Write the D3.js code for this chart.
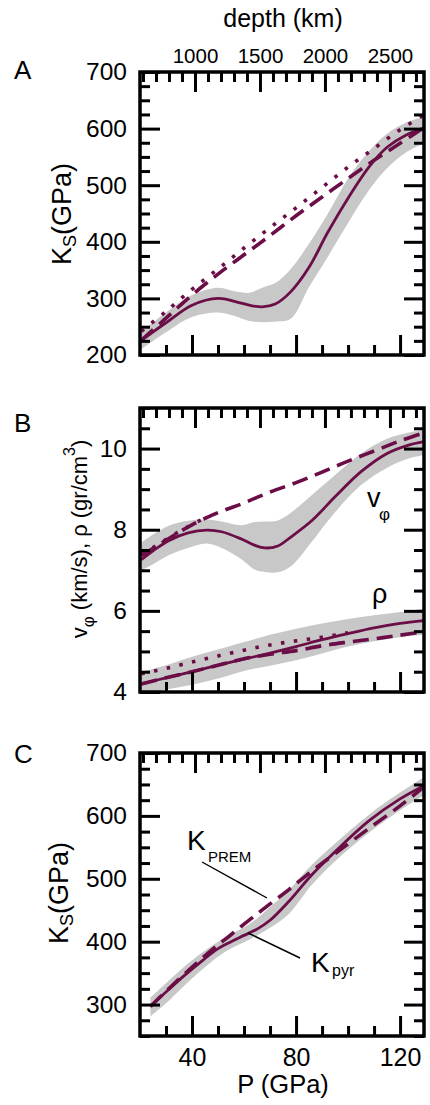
<!DOCTYPE html>
<html><head><meta charset="utf-8">
<script src="https://cdn.jsdelivr.net/npm/d3@7"></script>
<style>
body{margin:0;background:#fff;}
svg{display:block;font-family:"Liberation Sans",Arial,Helvetica,sans-serif;}
</style></head><body>
<svg id="c" width="430" height="1105"></svg>
<script>
// ---------- DATA ----------
// Panel A : K_S vs P
const pA = [20.5, 30, 40, 50, 57, 62, 67, 72, 78, 85, 92, 100, 108, 115, 122, 129.2];
const ksPyrA = [226, 257, 288, 300, 294, 288, 285, 290, 312, 355, 415, 477, 532, 567, 588, 601];
const ksPyrA_lo = [210, 240, 267, 275, 268, 260, 258, 259, 264, 320, 372, 433, 491, 530, 557, 574];
const ksPyrA_hi = [241, 275, 306, 319, 312, 310, 319, 327, 352, 397, 448, 512, 560, 591, 610, 621];
const pRef = [20.5, 30, 40, 50, 60, 70, 80, 90, 100, 110, 120, 129.2];
const ksPremA = [226, 265, 306, 343, 377, 411, 446, 479, 512, 544, 574, 602];
const ksAltA = [242, 277, 316, 352, 389, 425, 460, 496, 532, 565, 598, 624];

// Panel B : v_phi and rho vs P
const pB = [20.5, 25, 31, 38.5, 45.6, 51.4, 59, 64, 68, 73, 78, 86, 95, 105, 115, 123, 129.2];
const vPyr = [7.26, 7.48, 7.73, 7.92, 7.99, 7.95, 7.77, 7.62, 7.55, 7.6, 7.82, 8.22, 8.81, 9.43, 9.88, 10.08, 10.17];
const vPyr_hi = [7.68, 7.88, 8.1, 8.22, 8.25, 8.2, 8.11, 8.19, 8.2, 8.23, 8.42, 8.85, 9.35, 9.88, 10.24, 10.39, 10.46];
const vPyr_lo = [7.0, 7.15, 7.37, 7.55, 7.66, 7.55, 7.27, 7.02, 6.96, 6.95, 7.1, 7.7, 8.43, 9.1, 9.53, 9.75, 9.84];
const vPrem = [7.36, 7.74, 8.12, 8.42, 8.66, 8.93, 9.16, 9.42, 9.69, 9.94, 10.19, 10.39];
const pAltV = [20.5, 25, 30, 35, 40, 46];
const vAlt = [7.4, 7.56, 7.76, 7.95, 8.13, 8.32];
const rhoPyr = [4.2, 4.35, 4.5, 4.66, 4.81, 4.96, 5.12, 5.29, 5.44, 5.58, 5.69, 5.76];
const rhoPyr_hi = [4.5, 4.66, 4.87, 5.05, 5.23, 5.41, 5.56, 5.69, 5.8, 5.89, 5.97, 6.06];
const rhoPyr_lo = [3.95, 4.06, 4.18, 4.33, 4.52, 4.65, 4.78, 4.95, 5.12, 5.25, 5.35, 5.41];
const rhoPrem = [4.2, 4.35, 4.5, 4.66, 4.82, 4.93, 5.02, 5.14, 5.23, 5.31, 5.40, 5.49];
const pAltRho = [20.5, 30, 40, 50, 60, 70, 80, 90, 100];
const rhoAlt = [4.45, 4.58, 4.74, 4.89, 5.03, 5.16, 5.26, 5.35, 5.46];

// Panel C : K_S vs P
const pC = [24, 30, 37, 44, 50, 55, 60, 65, 70, 77, 86, 95, 108, 120, 129.2];
const ksPyrC = [297, 320, 346, 370, 389, 400, 410, 420, 434, 463, 506, 543, 592, 627, 648];
const ksPyrC_hi = [311, 334, 360, 383, 400, 412, 423, 437, 455, 481, 522, 556, 602, 637, 662];
const ksPyrC_lo = [281, 302, 330, 356, 376, 389, 399, 410, 422, 443, 490, 528, 573, 609, 633];
const ksPremC = [297, 321, 348, 374, 395, 411, 428, 444, 460, 482, 512, 540, 580, 616, 646];

// Ticks
const pMajor = [40, 80, 120];
const pMinor = [30, 50, 60, 70, 90, 100, 110];
const depthMajor = [1000, 1500, 2000, 2500];
const depthMinor = [600,700,800,900,1100,1200,1300,1400,1600,1700,1800,1900,2100,2200,2300,2400,2600,2700];
const ksMajorA = [200, 300, 400, 500, 600, 700];
const vMajorB = [4, 6, 8, 10];
const ksMajorC = [300, 400, 500, 600, 700];

// ---------- DRAW ----------
const svg = d3.select("#c");
const LINE = "#6b0d47", BAND = "#c8c8c8";
const X0 = 140, X1 = 424;
const x = d3.scaleLinear().domain([20, 129.2]).range([X0, X1]);
const xd = d3.scaleLinear().domain([577, 2762]).range([X0, X1]);
const curve = d3.curveCatmullRom.alpha(0.5);

function styleAxis(g, fs) {
  g.select(".domain").remove();
  g.selectAll("line").attr("stroke", "#000").attr("stroke-width", 3);
  g.selectAll("text").attr("fill", "#000").attr("font-size", fs).attr("font-family", null);
}

function panel(o) {
  const y = d3.scaleLinear().domain(o.ydom).range([o.bottom, o.top]);
  const g = svg.append("g");
  const layer = g.append("g");
  const axes = g.append("g");
  axes.append("g").attr("transform", `translate(0,${o.bottom})`)
    .call(d3.axisBottom(x).tickValues(pMinor).tickSize(-10).tickFormat(""))
    .call(s => styleAxis(s, 25));
  axes.append("g").attr("transform", `translate(0,${o.bottom})`)
    .call(d3.axisBottom(x).tickValues(pMajor).tickSize(-20).tickPadding(12)
      .tickFormat(o.bottomLabels ? d3.format("d") : ""))
    .call(s => styleAxis(s, 25));
  axes.append("g").attr("transform", `translate(0,${o.top})`)
    .call(d3.axisTop(xd).tickValues(depthMinor).tickSize(-10).tickFormat(""))
    .call(s => styleAxis(s, 20));
  axes.append("g").attr("transform", `translate(0,${o.top})`)
    .call(d3.axisTop(xd).tickValues(depthMajor).tickSize(-20).tickPadding(9)
      .tickFormat(o.topLabels ? d3.format("d") : ""))
    .call(s => styleAxis(s, 20.5));
  const yMinor = d3.range(o.ydom[0], o.ydom[1] + 1e-9, o.minorStep).filter(v => !o.major.some(m => Math.abs(m - v) < 1e-9));
  axes.append("g").attr("transform", `translate(${X0},0)`)
    .call(d3.axisLeft(y).tickValues(yMinor).tickSize(-10).tickFormat(""))
    .call(s => styleAxis(s, 24));
  axes.append("g").attr("transform", `translate(${X0},0)`)
    .call(d3.axisLeft(y).tickValues(o.major).tickSize(-20).tickPadding(13).tickFormat(d3.format("d")))
    .call(s => styleAxis(s, 24.5));
  axes.append("g").attr("transform", `translate(${X1},0)`)
    .call(d3.axisRight(y).tickValues(yMinor).tickSize(-10).tickFormat(""))
    .call(s => styleAxis(s, 24));
  axes.append("g").attr("transform", `translate(${X1},0)`)
    .call(d3.axisRight(y).tickValues(o.major).tickSize(-20).tickFormat(""))
    .call(s => styleAxis(s, 24));
  axes.append("rect").attr("x", X0).attr("y", o.top).attr("width", X1 - X0).attr("height", o.bottom - o.top)
    .attr("fill", "none").attr("stroke", "#000").attr("stroke-width", 3.5);

  const area = d3.area().x(d => x(d[0])).y0(d => y(d[1])).y1(d => y(d[2])).curve(curve);
  const line = d3.line().x(d => x(d[0])).y(d => y(d[1])).curve(curve);
  o.bands.forEach(b => {
    layer.append("path").attr("d", area(b[0].map((p, i) => [p, b[1][i], b[2][i]]))).attr("fill", BAND);
  });
  o.lines.forEach(l => {
    const p = layer.append("path").attr("d", line(l.p.map((v, i) => [v, l.v[i]])))
      .attr("fill", "none").attr("stroke", LINE);
    if (l.style === "dash") p.attr("stroke-width", 3.6).attr("stroke-dasharray", "16,8");
    else if (l.style === "dot") p.attr("stroke-width", 3.6).attr("stroke-dasharray", "3.5,9.5");
    else p.attr("stroke-width", 2.8);
  });
  return y;
}

panel({
  top: 72, bottom: 355, ydom: [200, 700], major: ksMajorA, minorStep: 25,
  topLabels: true, bottomLabels: false,
  bands: [[pA, ksPyrA_lo, ksPyrA_hi]],
  lines: [
    {p: pRef, v: ksAltA, style: "dot"},
    {p: pRef, v: ksPremA, style: "dash"},
    {p: pA, v: ksPyrA, style: "solid"}
  ]
});
panel({
  top: 408, bottom: 692, ydom: [4, 11], major: vMajorB, minorStep: 0.5,
  topLabels: false, bottomLabels: false,
  bands: [[pB, vPyr_lo, vPyr_hi], [pRef, rhoPyr_lo, rhoPyr_hi]],
  lines: [
    {p: pAltV, v: vAlt, style: "dot"},
    {p: pRef, v: vPrem, style: "dash"},
    {p: pB, v: vPyr, style: "solid"},
    {p: pAltRho, v: rhoAlt, style: "dot"},
    {p: pRef, v: rhoPrem, style: "dash"},
    {p: pRef, v: rhoPyr, style: "solid"}
  ]
});
panel({
  top: 753, bottom: 1036, ydom: [250, 700], major: ksMajorC, minorStep: 25,
  topLabels: false, bottomLabels: true,
  bands: [[pC, ksPyrC_lo, ksPyrC_hi]],
  lines: [
    {p: pC, v: ksPremC, style: "dash"},
    {p: pC, v: ksPyrC, style: "solid"}
  ]
});

// ---------- TEXT ----------
const T = (xx, yy, s, fs, anchor) => svg.append("text").attr("x", xx).attr("y", yy)
  .attr("font-size", fs).attr("text-anchor", anchor || "start").attr("fill", "#000").text(s);

T(283, 27, "depth (km)", 25, "middle");
T(283, 1093, "P (GPa)", 25.5, "middle");
T(14, 79, "A", 26);
T(14, 432, "B", 26);
T(14, 763, "C", 26);

function ksTitle(xx, yy) {
  const t = svg.append("text").attr("transform", `translate(${xx},${yy}) rotate(-90)`)
    .attr("text-anchor", "middle").attr("font-size", 27).attr("fill", "#000");
  t.append("tspan").text("K");
  t.append("tspan").attr("font-size", 18).attr("dy", 5).text("S");
  t.append("tspan").attr("dy", -5).text("(GPa)");
}
ksTitle(71, 214);
ksTitle(68, 893);
{
  const t = svg.append("text").attr("transform", `translate(87,539) rotate(-90)`)
    .attr("text-anchor", "middle").attr("font-size", 22).attr("fill", "#000");
  t.append("tspan").text("v");
  t.append("tspan").attr("font-size", 17).attr("dy", 7).text("φ");
  t.append("tspan").attr("dy", -7).text(" (km/s), ρ (gr/cm");
  t.append("tspan").attr("font-size", 16).attr("dy", -12).text("3");
  t.append("tspan").attr("dy", 12).text(")");
}

T(367, 507, "v", 27);
T(379, 520, "φ", 17);
T(372, 603, "ρ", 27);

T(187, 850, "K", 28);
T(208, 862, "PREM", 15);
T(311, 972, "K", 28);
T(332, 976, "pyr", 16);
svg.append("line").attr("x1", 202).attr("y1", 862).attr("x2", 267).attr("y2", 898)
  .attr("stroke", "#000").attr("stroke-width", 1.4);
svg.append("line").attr("x1", 248).attr("y1", 933).attr("x2", 300).attr("y2", 958)
  .attr("stroke", "#000").attr("stroke-width", 1.4);
</script>
</body></html>
